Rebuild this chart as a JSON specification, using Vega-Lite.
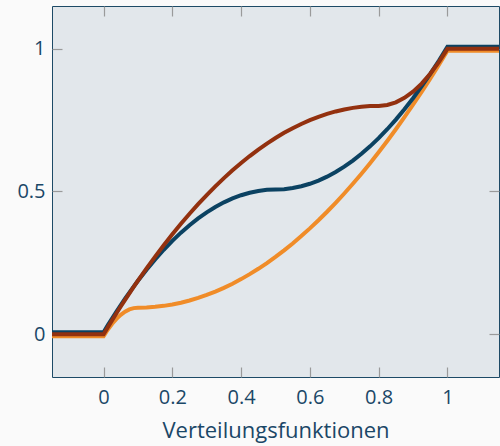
{
  "$schema": "https://vega.github.io/schema/vega-lite/v6.json",
  "autosize": "none",
  "padding": {"left": 52, "top": 6, "right": 1, "bottom": 69},
  "width": 447,
  "height": 371,
  "background": "#fafafa",
  "config": {
    "view": {"fill": "#e2e7eb", "stroke": "#1d4a66", "strokeWidth": 1},
    "font": "Open Sans",
    "axis": {
      "labelFont": "Open Sans",
      "titleFont": "Open Sans",
      "labelColor": "#1a4767",
      "titleColor": "#1a4767",
      "labelFontSize": 20,
      "titleFontSize": 22,
      "titleFontWeight": "normal",
      "grid": false,
      "domain": false,
      "tickColor": "#9a9a9a",
      "tickWidth": 1.2,
      "tickSize": -10,
      "format": "~g"
    }
  },
  "data": {"values": [
    {"x": -0.15, "b": 0, "r": 0, "o": 0},
    {"x": 0, "b": 0, "r": 0, "o": 0},
    {"x": 0.0125, "b": 0.0247, "r": 0.0248, "o": 0.0234},
    {"x": 0.025, "b": 0.04875, "r": 0.0492, "o": 0.04375},
    {"x": 0.0375, "b": 0.0722, "r": 0.0732, "o": 0.0609},
    {"x": 0.05, "b": 0.095, "r": 0.0969, "o": 0.075},
    {"x": 0.0625, "b": 0.1172, "r": 0.1201, "o": 0.0859},
    {"x": 0.075, "b": 0.13875, "r": 0.143, "o": 0.09375},
    {"x": 0.0875, "b": 0.1597, "r": 0.1654, "o": 0.0984},
    {"x": 0.1, "b": 0.18, "r": 0.1875, "o": 0.1},
    {"x": 0.125, "b": 0.21875, "r": 0.2305, "o": 0.1007},
    {"x": 0.15, "b": 0.255, "r": 0.2719, "o": 0.1028},
    {"x": 0.175, "b": 0.28875, "r": 0.3117, "o": 0.1063},
    {"x": 0.2, "b": 0.32, "r": 0.35, "o": 0.1111},
    {"x": 0.225, "b": 0.34875, "r": 0.3867, "o": 0.1174},
    {"x": 0.25, "b": 0.375, "r": 0.4219, "o": 0.125},
    {"x": 0.275, "b": 0.39875, "r": 0.4555, "o": 0.134},
    {"x": 0.3, "b": 0.42, "r": 0.4875, "o": 0.1444},
    {"x": 0.325, "b": 0.43875, "r": 0.518, "o": 0.1563},
    {"x": 0.35, "b": 0.455, "r": 0.5469, "o": 0.1694},
    {"x": 0.375, "b": 0.46875, "r": 0.5742, "o": 0.184},
    {"x": 0.4, "b": 0.48, "r": 0.6, "o": 0.2},
    {"x": 0.425, "b": 0.48875, "r": 0.6242, "o": 0.2174},
    {"x": 0.45, "b": 0.495, "r": 0.6469, "o": 0.2361},
    {"x": 0.475, "b": 0.49875, "r": 0.668, "o": 0.2563},
    {"x": 0.5, "b": 0.5, "r": 0.6875, "o": 0.2778},
    {"x": 0.525, "b": 0.50125, "r": 0.7055, "o": 0.3007},
    {"x": 0.55, "b": 0.505, "r": 0.7219, "o": 0.325},
    {"x": 0.575, "b": 0.51125, "r": 0.7367, "o": 0.3507},
    {"x": 0.6, "b": 0.52, "r": 0.75, "o": 0.3778},
    {"x": 0.625, "b": 0.53125, "r": 0.7617, "o": 0.4063},
    {"x": 0.65, "b": 0.545, "r": 0.7719, "o": 0.4361},
    {"x": 0.675, "b": 0.56125, "r": 0.7805, "o": 0.4674},
    {"x": 0.7, "b": 0.58, "r": 0.7875, "o": 0.5},
    {"x": 0.725, "b": 0.60125, "r": 0.793, "o": 0.534},
    {"x": 0.75, "b": 0.625, "r": 0.7969, "o": 0.5694},
    {"x": 0.775, "b": 0.65125, "r": 0.7992, "o": 0.6063},
    {"x": 0.8, "b": 0.68, "r": 0.8, "o": 0.6444},
    {"x": 0.825, "b": 0.71125, "r": 0.8031, "o": 0.684},
    {"x": 0.85, "b": 0.745, "r": 0.8125, "o": 0.725},
    {"x": 0.875, "b": 0.78125, "r": 0.8281, "o": 0.7674},
    {"x": 0.9, "b": 0.82, "r": 0.85, "o": 0.8111},
    {"x": 0.925, "b": 0.86125, "r": 0.8781, "o": 0.8563},
    {"x": 0.95, "b": 0.905, "r": 0.9125, "o": 0.9028},
    {"x": 0.975, "b": 0.95125, "r": 0.9531, "o": 0.9507},
    {"x": 1, "b": 1, "r": 1, "o": 1},
    {"x": 1.15, "b": 1, "r": 1, "o": 1}
  ]},
  "resolve": {"axis": {"x": "independent", "y": "independent"}},
  "layer": [
    {
      "mark": {"type": "line", "color": "#f08c28", "strokeWidth": 4, "yOffset": 2, "clip": true},
      "encoding": {
        "x": {"field": "x", "type": "quantitative", "scale": {"domain": [-0.15, 1.15], "nice": false, "zero": false},
              "axis": {"orient": "bottom", "values": [0, 0.2, 0.4, 0.6, 0.8, 1], "labelPadding": 20, "title": "Verteilungsfunktionen", "titlePadding": 13}},
        "y": {"field": "o", "type": "quantitative", "scale": {"domain": [-0.15, 1.15], "nice": false, "zero": false},
              "axis": {"orient": "left", "values": [0, 0.5, 1], "labelPadding": 17, "title": null}}
      }
    },
    {
      "mark": {"type": "line", "color": "#0b4262", "strokeWidth": 4, "yOffset": -2, "clip": true},
      "encoding": {
        "x": {"field": "x", "type": "quantitative", "axis": {"orient": "top", "values": [0, 0.2, 0.4, 0.6, 0.8, 1], "labels": false, "title": null}},
        "y": {"field": "b", "type": "quantitative", "axis": {"orient": "right", "values": [0, 0.5, 1], "labels": false, "title": null}}
      }
    },
    {
      "mark": {"type": "line", "color": "#93310f", "strokeWidth": 4, "clip": true},
      "encoding": {
        "x": {"field": "x", "type": "quantitative", "axis": null},
        "y": {"field": "r", "type": "quantitative", "axis": null}
      }
    }
  ]
}
